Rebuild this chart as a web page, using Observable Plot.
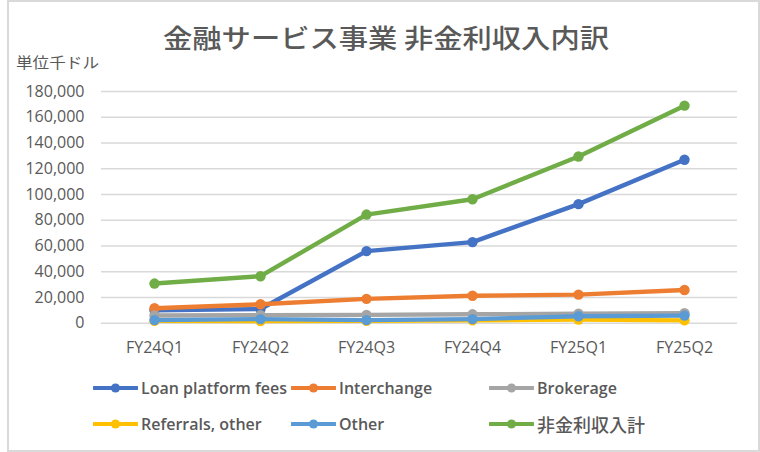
<!DOCTYPE html>
<html>
<head>
<meta charset="utf-8">
<script src="https://cdn.jsdelivr.net/npm/d3@7"></script>
<script src="https://cdn.jsdelivr.net/npm/@observablehq/plot@0.6"></script>
<style>
  html, body { margin: 0; padding: 0; background: #fff; }
  #wrap { position: relative; width: 760px; height: 452px; overflow: hidden; background: #fff; }
  #frame { position: absolute; left: 7px; top: 0; width: 753px; height: 452px; box-sizing: border-box; border: 2px solid #d9d9d9; }
  #title { position: absolute; top: 24px; left: 0; white-space: nowrap; font-family: "Noto Sans CJK JP", sans-serif; font-weight: 500; font-size: 26px; line-height: 1; color: #595959; transform-origin: left center; }
  #unit { position: absolute; top: 54px; left: 16px; white-space: nowrap; font-family: "Noto Sans CJK JP", sans-serif; font-weight: 400; font-size: 15px; line-height: 1; color: #595959; transform-origin: left center; }
  #chart { position: absolute; left: 0; top: 0; }
  .leg { position: absolute; display: flex; align-items: center; white-space: nowrap; height: 20px; }
  .leg span { font-family: "Open Sans", "Noto Sans CJK JP", sans-serif; font-weight: 600; font-size: 16px; color: #595959; margin-left: 3px; }
  .leg span.cjk { font-family: "Noto Sans CJK JP", sans-serif; font-weight: 500; font-size: 18px; }
</style>
</head>
<body>
<div id="wrap">
  <div id="frame"></div>
  <div id="chart"></div>
  <div id="title">金融サービス事業 非金利収入内訳</div>
  <div id="unit">単位千ドル</div>
  <div id="legend"></div>
</div>
<script>
// ---- data (thousand USD) ----
const quarters = ["FY24Q1", "FY24Q2", "FY24Q3", "FY24Q4", "FY25Q1", "FY25Q2"];
const seriesNames = ["Loan platform fees", "Interchange", "Brokerage", "Referrals, other", "Other", "非金利収入計"];
const loanPlatformFees = [10000, 11000, 56000, 63000, 92500, 127000];
const interchange = [11600, 14700, 18900, 21300, 22200, 25800];
const brokerage = [6000, 6300, 6500, 6900, 7400, 7700];
const referralsOther = [1800, 1600, 1800, 2300, 2800, 2200];
const other = [2400, 3200, 2400, 3200, 5400, 5900];
const nonInterestTotal = [30800, 36500, 84400, 96300, 129500, 169000];
const yTicks = [0, 20000, 40000, 60000, 80000, 100000, 120000, 140000, 160000, 180000];
const seriesColors = ["#4472C4", "#ED7D31", "#A5A5A5", "#FFC000", "#5B9BD5", "#70AD47"];

const seriesValues = [loanPlatformFees, interchange, brokerage, referralsOther, other, nonInterestTotal];
const data = seriesNames.flatMap((name, s) => quarters.map((q, i) => ({name, q, v: seriesValues[s][i]})));

const W = 760, H = 370;
const marks = [
  Plot.gridY(yTicks, {stroke: "#d9d9d9", strokeOpacity: 1, strokeWidth: 1.4}),
  Plot.axisY(yTicks, {tickSize: 0, tickPadding: 17, tickFormat: d3.format(","), label: null}),
  Plot.axisX({tickSize: 0, tickPadding: 18, label: null})
];
seriesNames.forEach((name, s) => {
  const rows = data.filter(d => d.name === name);
  marks.push(Plot.line(rows, {x: "q", y: "v", stroke: seriesColors[s], strokeWidth: 4.4, strokeLinejoin: "round", strokeLinecap: "round"}));
  marks.push(Plot.dot(rows, {x: "q", y: "v", r: 5.2, fill: seriesColors[s], stroke: "none"}));
});

const chart = Plot.plot({
  width: W, height: H,
  marginLeft: 101, marginRight: 23, marginTop: 91, marginBottom: H - 322.7,
  style: {fontFamily: "'Open Sans', sans-serif", fontSize: "16px", color: "#595959", background: "transparent", overflow: "visible"},
  x: {type: "point", domain: quarters, padding: 0.5},
  y: {domain: [0, 180000]},
  marks
});
document.getElementById("chart").appendChild(chart);

// ---- legend ----
const legend = document.getElementById("legend");
const cols = [93, 291, 489], rows = [378, 414];
seriesNames.forEach((name, s) => {
  const div = document.createElement("div");
  div.className = "leg";
  div.style.left = cols[s % 3] + "px";
  div.style.top = rows[Math.floor(s / 3)] + "px";
  const c = seriesColors[s];
  div.innerHTML = `<svg width="45" height="12"><line x1="1" y1="6" x2="44" y2="6" stroke="${c}" stroke-width="4" stroke-linecap="round"/><circle cx="22.5" cy="6" r="4.6" fill="${c}"/></svg><span class="${/[^\x00-\x7F]/.test(name) ? "cjk" : ""}">${name}</span>`;
  legend.appendChild(div);
});

// stretch title/unit to the reference's wide glyphs
function fit(id, left, width) {
  const el = document.getElementById(id);
  const w = el.getBoundingClientRect().width;
  el.style.left = left + "px";
  el.style.transform = `scaleX(${width / w})`;
}
fit("title", 163, 446);
fit("unit", 16, 83);
</script>
</body>
</html>
